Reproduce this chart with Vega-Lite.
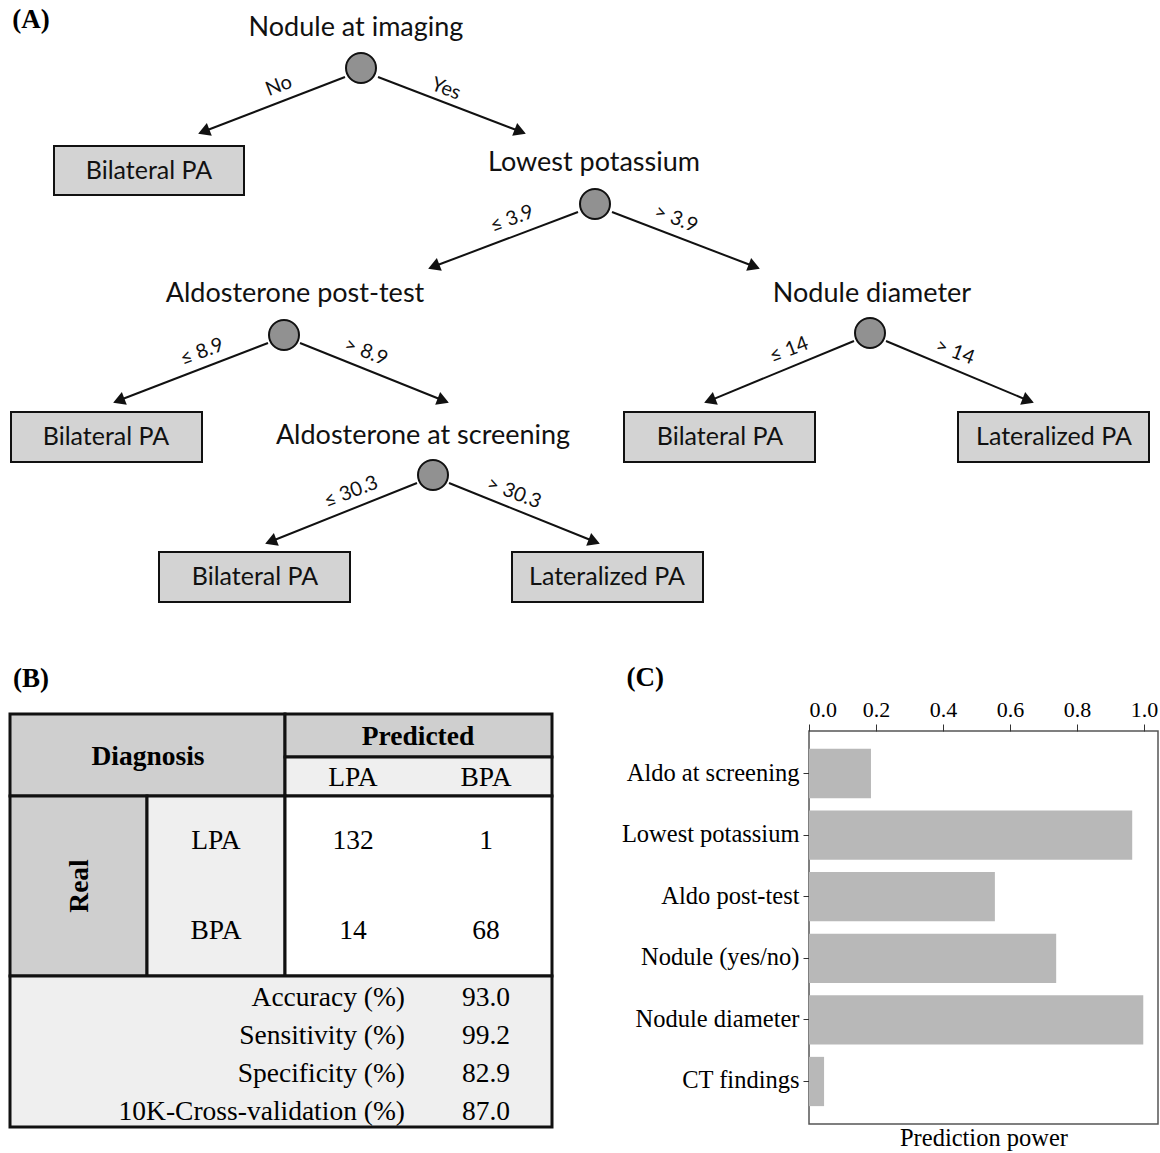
{
  "$schema": "https://vega.github.io/schema/vega-lite/v6.json",
  "padding": 0,
  "background": "white",
  "spacing": 48,
  "config": {"view": {"stroke": null}, "font": "Liberation Serif"},
  "datasets": {
    "plabel": [{"panel": "A", "t": "(A)", "x": 31, "y": 20}, {"panel": "B", "t": "(B)", "x": 31, "y": 679}],
    "dnodes": [
      {"name": "Nodule at imaging", "cx": 361, "cy": 68, "lx": 356, "ly": 28},
      {"name": "Lowest potassium", "cx": 595, "cy": 204, "lx": 594, "ly": 163},
      {"name": "Aldosterone post-test", "cx": 284, "cy": 335, "lx": 295, "ly": 294},
      {"name": "Nodule diameter", "cx": 870, "cy": 333, "lx": 872, "ly": 294},
      {"name": "Aldosterone at screening", "cx": 433, "cy": 475, "lx": 423, "ly": 436}
    ],
    "leaves": [
      {"name": "Bilateral PA", "x1": 54, "x2": 244, "y1": 146, "y2": 195, "cx": 149, "cy": 171},
      {"name": "Bilateral PA", "x1": 11, "x2": 202, "y1": 412, "y2": 462, "cx": 106, "cy": 437},
      {"name": "Bilateral PA", "x1": 624, "x2": 815, "y1": 412, "y2": 462, "cx": 720, "cy": 437},
      {"name": "Lateralized PA", "x1": 958, "x2": 1149, "y1": 412, "y2": 462, "cx": 1054, "cy": 437},
      {"name": "Bilateral PA", "x1": 159, "x2": 350, "y1": 552, "y2": 602, "cx": 255, "cy": 577},
      {"name": "Lateralized PA", "x1": 512, "x2": 703, "y1": 552, "y2": 602, "cx": 607, "cy": 577}
    ],
    "edges": [
      {"side": "L", "x": 345, "y": 77, "ex": 205.6, "ey": 130.8, "label": "No", "lx": 279, "ly": 86},
      {"side": "R", "x": 378, "y": 77, "ex": 518.4, "ey": 130.8, "label": "Yes", "lx": 446, "ly": 89},
      {"side": "L", "x": 578, "y": 212, "ex": 435.6, "ey": 265.8, "label": "≤ 3.9", "lx": 512, "ly": 219},
      {"side": "R", "x": 612, "y": 212, "ex": 752.4, "ey": 265.8, "label": "> 3.9", "lx": 676, "ly": 219},
      {"side": "L", "x": 268, "y": 343, "ex": 120.6, "ey": 399.8, "label": "≤ 8.9", "lx": 202, "ly": 352},
      {"side": "R", "x": 300, "y": 343, "ex": 441.4, "ey": 399.8, "label": "> 8.9", "lx": 366, "ly": 352},
      {"side": "L", "x": 854, "y": 341, "ex": 711.6, "ey": 399.8, "label": "≤ 14", "lx": 789, "ly": 350},
      {"side": "R", "x": 886, "y": 341, "ex": 1026.4, "ey": 399.8, "label": "> 14", "lx": 955, "ly": 352},
      {"side": "L", "x": 417, "y": 483, "ex": 272.6, "ey": 540.8, "label": "≤ 30.3", "lx": 351, "ly": 492},
      {"side": "R", "x": 449, "y": 483, "ex": 592.4, "ey": 540.8, "label": "> 30.3", "lx": 514, "ly": 493}
    ],
    "cells": [
      {"role": "header", "x1": 10, "x2": 285, "y1": 714, "y2": 796},
      {"role": "header", "x1": 285, "x2": 552, "y1": 714, "y2": 757},
      {"role": "label", "x1": 285, "x2": 552, "y1": 757, "y2": 796},
      {"role": "header", "x1": 10, "x2": 147, "y1": 796, "y2": 976},
      {"role": "label", "x1": 147, "x2": 285, "y1": 796, "y2": 976},
      {"role": "value", "x1": 285, "x2": 552, "y1": 796, "y2": 976},
      {"role": "summary", "x1": 10, "x2": 552, "y1": 976, "y2": 1127}
    ],
    "ttext": [
      {"kind": "head", "t": "Diagnosis", "x": 148, "y": 757},
      {"kind": "head", "t": "Predicted", "x": 418, "y": 737},
      {"kind": "vhead", "t": "Real", "x": 80, "y": 886},
      {"kind": "cell", "t": "LPA", "x": 353, "y": 778},
      {"kind": "cell", "t": "BPA", "x": 486, "y": 778},
      {"kind": "cell", "t": "LPA", "x": 216, "y": 841},
      {"kind": "cell", "t": "BPA", "x": 216, "y": 931},
      {"kind": "cell", "t": "132", "x": 353, "y": 841},
      {"kind": "cell", "t": "1", "x": 486, "y": 841},
      {"kind": "cell", "t": "14", "x": 353, "y": 931},
      {"kind": "cell", "t": "68", "x": 486, "y": 931},
      {"kind": "metric", "t": "Accuracy (%)", "x": 405, "y": 998},
      {"kind": "metric", "t": "Sensitivity (%)", "x": 405, "y": 1036},
      {"kind": "metric", "t": "Specificity (%)", "x": 405, "y": 1074},
      {"kind": "metric", "t": "10K-Cross-validation (%)", "x": 405, "y": 1112},
      {"kind": "cell", "t": "93.0", "x": 486, "y": 998},
      {"kind": "cell", "t": "99.2", "x": 486, "y": 1036},
      {"kind": "cell", "t": "82.9", "x": 486, "y": 1074},
      {"kind": "cell", "t": "87.0", "x": 486, "y": 1112}
    ],
    "importance": [
      {"feature": "Aldo at screening", "power": 0.185},
      {"feature": "Lowest potassium", "power": 0.965},
      {"feature": "Aldo post-test", "power": 0.555},
      {"feature": "Nodule (yes/no)", "power": 0.738},
      {"feature": "Nodule diameter", "power": 0.998},
      {"feature": "CT findings", "power": 0.045}
    ]
  },
  "vconcat": [
    {
      "width": 1160,
      "height": 615,
      "layer": [
        {
          "data": {"name": "edges"},
          "mark": {"type": "rule", "stroke": "#111", "strokeWidth": 2},
          "encoding": {
            "x": {"field": "x", "type": "quantitative", "scale": {"domain": [0, 1160], "nice": false, "zero": false}, "axis": null},
            "y": {"field": "y", "type": "quantitative", "scale": {"domain": [0, 615], "nice": false, "zero": false, "reverse": true}, "axis": null},
            "x2": {"field": "ex"},
            "y2": {"field": "ey"}
          }
        },
        {
          "data": {"name": "edges"},
          "transform": [{"filter": "datum.side === 'L'"}],
          "mark": {"type": "point", "shape": "triangle", "filled": true, "fill": "#111", "stroke": null, "size": 190, "angle": 249, "opacity": 1},
          "encoding": {
            "x": {"field": "ex", "type": "quantitative"},
            "y": {"field": "ey", "type": "quantitative"}
          }
        },
        {
          "data": {"name": "edges"},
          "transform": [{"filter": "datum.side === 'R'"}],
          "mark": {"type": "point", "shape": "triangle", "filled": true, "fill": "#111", "stroke": null, "size": 190, "angle": 111, "opacity": 1},
          "encoding": {
            "x": {"field": "ex", "type": "quantitative"},
            "y": {"field": "ey", "type": "quantitative"}
          }
        },
        {
          "data": {"name": "edges"},
          "transform": [{"filter": "datum.side === 'L'"}],
          "mark": {"type": "text", "font": "Lato", "fontSize": 20, "angle": 339, "color": "#111", "baseline": "middle", "align": "center"},
          "encoding": {
            "x": {"field": "lx", "type": "quantitative"},
            "y": {"field": "ly", "type": "quantitative"},
            "text": {"field": "label"}
          }
        },
        {
          "data": {"name": "edges"},
          "transform": [{"filter": "datum.side === 'R'"}],
          "mark": {"type": "text", "font": "Lato", "fontSize": 20, "angle": 21, "color": "#111", "baseline": "middle", "align": "center"},
          "encoding": {
            "x": {"field": "lx", "type": "quantitative"},
            "y": {"field": "ly", "type": "quantitative"},
            "text": {"field": "label"}
          }
        },
        {
          "data": {"name": "dnodes"},
          "mark": {"type": "point", "shape": "circle", "filled": true, "fill": "#919191", "stroke": "#111", "strokeWidth": 2, "size": 900, "opacity": 1},
          "encoding": {
            "x": {"field": "cx", "type": "quantitative"},
            "y": {"field": "cy", "type": "quantitative"}
          }
        },
        {
          "data": {"name": "dnodes"},
          "mark": {"type": "text", "font": "Lato", "fontSize": 27, "color": "#111", "baseline": "middle", "align": "center"},
          "encoding": {
            "x": {"field": "lx", "type": "quantitative"},
            "y": {"field": "ly", "type": "quantitative"},
            "text": {"field": "name"}
          }
        },
        {
          "data": {"name": "leaves"},
          "mark": {"type": "rect", "fill": "#d3d3d3", "stroke": "#111", "strokeWidth": 2},
          "encoding": {
            "x": {"field": "x1", "type": "quantitative"},
            "x2": {"field": "x2"},
            "y": {"field": "y1", "type": "quantitative"},
            "y2": {"field": "y2"}
          }
        },
        {
          "data": {"name": "leaves"},
          "mark": {"type": "text", "font": "Lato", "fontSize": 25, "color": "#111", "baseline": "middle", "align": "center"},
          "encoding": {
            "x": {"field": "cx", "type": "quantitative"},
            "y": {"field": "cy", "type": "quantitative"},
            "text": {"field": "name"}
          }
        },
        {
          "data": {"name": "plabel"},
          "transform": [{"filter": "datum.panel === 'A'"}],
          "mark": {"type": "text", "font": "Liberation Serif", "fontSize": 27, "fontWeight": "bold", "color": "#000", "baseline": "middle", "align": "center"},
          "encoding": {
            "x": {"field": "x", "type": "quantitative"},
            "y": {"field": "y", "type": "quantitative"},
            "text": {"field": "t"}
          }
        }
      ]
    },
    {
      "spacing": 66,
      "hconcat": [
        {
          "width": 552,
          "height": 409,
          "layer": [
            {
              "data": {"name": "cells"},
              "mark": {"type": "rect", "stroke": "#111", "strokeWidth": 3},
              "encoding": {
                "x": {"field": "x1", "type": "quantitative", "scale": {"domain": [0, 552], "nice": false, "zero": false}, "axis": null},
                "x2": {"field": "x2"},
                "y": {"field": "y1", "type": "quantitative", "scale": {"domain": [731, 1140], "nice": false, "zero": false, "reverse": true}, "axis": null},
                "y2": {"field": "y2"},
                "color": {"field": "role", "type": "nominal", "scale": {"domain": ["header", "label", "value", "summary"], "range": ["#cfcfcf", "#efefef", "#ffffff", "#efefef"]}, "legend": null}
              }
            },
            {
              "data": {"name": "plabel"},
              "transform": [{"filter": "datum.panel === 'B'"}],
              "mark": {"type": "text", "font": "Liberation Serif", "fontSize": 27, "fontWeight": "bold", "color": "#000", "baseline": "middle", "align": "center"},
              "encoding": {
                "x": {"field": "x", "type": "quantitative"},
                "y": {"field": "y", "type": "quantitative"},
                "text": {"field": "t"}
              }
            },
            {
              "data": {"name": "ttext"},
              "transform": [{"filter": "datum.kind === 'head'"}],
              "mark": {"type": "text", "font": "Liberation Serif", "fontSize": 27.5, "fontWeight": "bold", "color": "#000", "baseline": "middle", "align": "center"},
              "encoding": {
                "x": {"field": "x", "type": "quantitative"},
                "y": {"field": "y", "type": "quantitative"},
                "text": {"field": "t"}
              }
            },
            {
              "data": {"name": "ttext"},
              "transform": [{"filter": "datum.kind === 'vhead'"}],
              "mark": {"type": "text", "font": "Liberation Serif", "fontSize": 27.5, "fontWeight": "bold", "color": "#000", "baseline": "middle", "align": "center", "angle": 270},
              "encoding": {
                "x": {"field": "x", "type": "quantitative"},
                "y": {"field": "y", "type": "quantitative"},
                "text": {"field": "t"}
              }
            },
            {
              "data": {"name": "ttext"},
              "transform": [{"filter": "datum.kind === 'cell'"}],
              "mark": {"type": "text", "font": "Liberation Serif", "fontSize": 27.5, "color": "#000", "baseline": "middle", "align": "center"},
              "encoding": {
                "x": {"field": "x", "type": "quantitative"},
                "y": {"field": "y", "type": "quantitative"},
                "text": {"field": "t"}
              }
            },
            {
              "data": {"name": "ttext"},
              "transform": [{"filter": "datum.kind === 'metric'"}],
              "mark": {"type": "text", "font": "Liberation Serif", "fontSize": 27.5, "color": "#000", "baseline": "middle", "align": "right"},
              "encoding": {
                "x": {"field": "x", "type": "quantitative"},
                "y": {"field": "y", "type": "quantitative"},
                "text": {"field": "t"}
              }
            }
          ]
        },
        {
          "vconcat": [
            {
              "width": 349,
              "height": 393,
              "view": {"stroke": "#555", "strokeWidth": 1.5},
              "title": {"text": "(C)", "anchor": "start", "frame": "bounds", "font": "Liberation Serif", "fontSize": 27, "fontWeight": "bold", "color": "#000", "dx": 5, "offset": 6},
              "data": {"name": "importance"},
              "layer": [
                {
                  "mark": {"type": "bar", "color": "#b8b8b8"},
                  "encoding": {
                    "y": {"field": "feature", "type": "nominal", "sort": null, "scale": {"paddingInner": 0.2, "paddingOuter": 0.29},
                      "axis": {"title": null, "domain": false, "labelFont": "Liberation Serif", "labelFontSize": 24.5, "labelColor": "#000", "tickColor": "#333", "tickSize": 6, "labelPadding": 4}},
                    "x": {"field": "power", "type": "quantitative", "scale": {"domain": [0, 1.042], "nice": false, "zero": true},
                      "axis": {"orient": "top", "title": null, "values": [0, 0.2, 0.4, 0.6, 0.8, 1.0], "format": ".1f", "grid": false, "domain": false, "labelFont": "Liberation Serif", "labelFontSize": 22, "labelColor": "#000", "tickColor": "#333", "tickSize": 7, "labelPadding": 3}}
                  }
                },
                {
                  "mark": {"type": "bar", "opacity": 0},
                  "encoding": {
                    "y": {"field": "feature", "type": "nominal", "sort": null},
                    "x": {"field": "power", "type": "quantitative",
                      "axis": {"orient": "bottom", "title": "Prediction power", "labels": false, "ticks": false, "domain": false, "grid": false, "titleFont": "Liberation Serif", "titleFontSize": 24.5, "titleFontWeight": "normal", "titleColor": "#000", "titlePadding": 2}}
                  }
                }
              ],
              "resolve": {"axis": {"x": "independent"}}
            }
          ]
        }
      ]
    }
  ]
}
